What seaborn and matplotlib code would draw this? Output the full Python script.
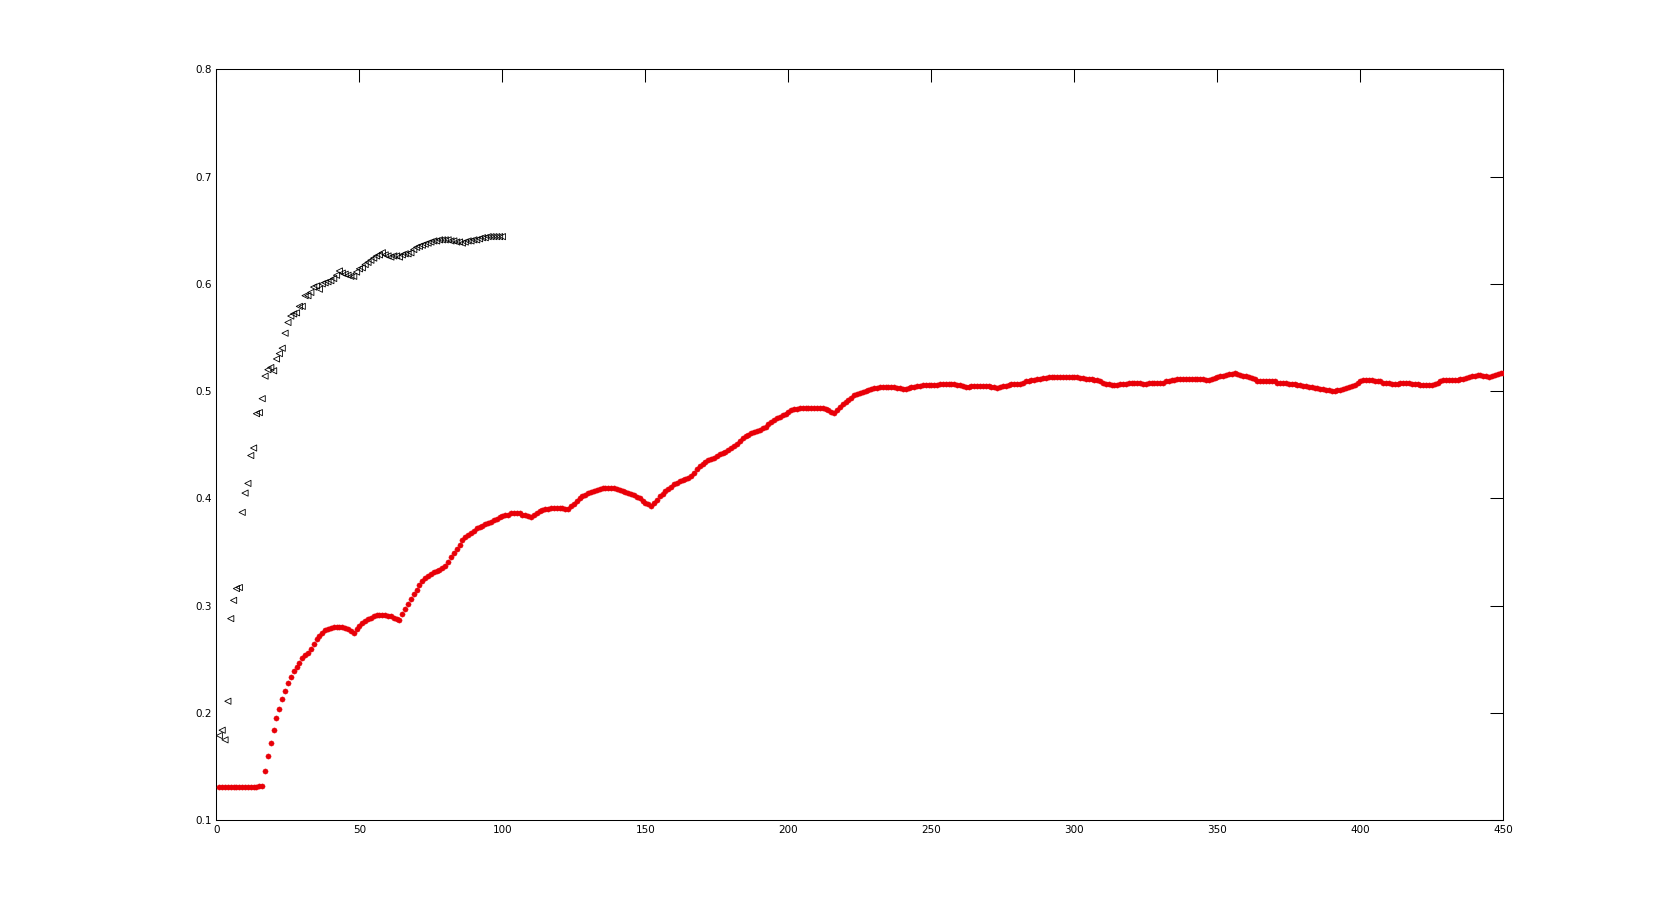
import numpy as np
import matplotlib
matplotlib.use("Agg")
import matplotlib.pyplot as plt
import seaborn as sns

# ==========================================
# Data
# ==========================================

# black open triangles, x = 1..100
tri_values = [
    0.179, 0.184, 0.175, 0.211, 0.288, 0.305, 0.316, 0.317, 0.387, 0.405,
    0.414, 0.440, 0.447, 0.479, 0.480, 0.493, 0.514, 0.520, 0.522, 0.519,
    0.530, 0.535, 0.540, 0.554, 0.564, 0.570, 0.572, 0.573, 0.579, 0.579,
    0.589, 0.589, 0.592, 0.597, 0.598, 0.595, 0.600, 0.601, 0.602, 0.603,
    0.605, 0.608, 0.612, 0.610, 0.609, 0.608, 0.607, 0.607, 0.611, 0.614,
    0.615, 0.618, 0.620, 0.622, 0.624, 0.626, 0.627, 0.629, 0.627, 0.626,
    0.625, 0.626, 0.626, 0.625, 0.627, 0.628, 0.628, 0.629, 0.632, 0.634,
    0.635, 0.636, 0.637, 0.638, 0.639, 0.640, 0.640, 0.641, 0.641, 0.641,
    0.641, 0.640, 0.640, 0.639, 0.639, 0.638, 0.639, 0.640, 0.640, 0.641,
    0.641, 0.642, 0.643, 0.643, 0.644, 0.644, 0.644, 0.644, 0.644, 0.644,
]

# red dots, x = 1..450
red_values = [
    0.131, 0.131, 0.131, 0.131, 0.131, 0.131, 0.131, 0.131, 0.131, 0.131,
    0.131, 0.131, 0.131, 0.131, 0.132, 0.132, 0.146, 0.160, 0.172, 0.184,
    0.195, 0.204, 0.213, 0.221, 0.228, 0.234, 0.239, 0.243, 0.247, 0.251,
    0.254, 0.256, 0.260, 0.264, 0.269, 0.272, 0.275, 0.277, 0.278, 0.279,
    0.280, 0.280, 0.280, 0.280, 0.279, 0.278, 0.276, 0.275, 0.278, 0.281,
    0.284, 0.286, 0.288, 0.289, 0.290, 0.291, 0.291, 0.291, 0.291, 0.290,
    0.290, 0.289, 0.288, 0.287, 0.292, 0.297, 0.302, 0.306, 0.311, 0.315,
    0.319, 0.323, 0.326, 0.328, 0.330, 0.331, 0.332, 0.333, 0.335, 0.337,
    0.341, 0.345, 0.349, 0.353, 0.357, 0.361, 0.364, 0.366, 0.368, 0.370,
    0.372, 0.373, 0.374, 0.376, 0.377, 0.378, 0.380, 0.381, 0.383, 0.384,
    0.385, 0.385, 0.386, 0.386, 0.386, 0.386, 0.385, 0.385, 0.384, 0.383,
    0.385, 0.386, 0.388, 0.389, 0.390, 0.390, 0.391, 0.391, 0.391, 0.391,
    0.391, 0.390, 0.390, 0.393, 0.395, 0.398, 0.400, 0.402, 0.403, 0.405,
    0.406, 0.407, 0.408, 0.409, 0.410, 0.410, 0.410, 0.410, 0.410, 0.409,
    0.408, 0.407, 0.406, 0.405, 0.404, 0.403, 0.401, 0.400, 0.398, 0.396,
    0.395, 0.393, 0.396, 0.399, 0.402, 0.404, 0.407, 0.409, 0.411, 0.413,
    0.414, 0.416, 0.417, 0.418, 0.419, 0.421, 0.424, 0.427, 0.430, 0.432,
    0.434, 0.436, 0.437, 0.438, 0.440, 0.441, 0.442, 0.443, 0.445, 0.447,
    0.449, 0.451, 0.454, 0.456, 0.458, 0.459, 0.461, 0.462, 0.463, 0.464,
    0.466, 0.467, 0.469, 0.471, 0.473, 0.475, 0.476, 0.478, 0.479, 0.481,
    0.482, 0.483, 0.483, 0.484, 0.484, 0.484, 0.484, 0.484, 0.484, 0.484,
    0.484, 0.484, 0.483, 0.482, 0.481, 0.480, 0.482, 0.485, 0.488, 0.490,
    0.492, 0.494, 0.496, 0.497, 0.498, 0.499, 0.500, 0.501, 0.502, 0.503,
    0.503, 0.504, 0.504, 0.504, 0.504, 0.504, 0.504, 0.503, 0.503, 0.502,
    0.502, 0.503, 0.504, 0.504, 0.505, 0.505, 0.506, 0.506, 0.506, 0.506,
    0.506, 0.506, 0.507, 0.507, 0.507, 0.507, 0.507, 0.507, 0.506, 0.506,
    0.505, 0.504, 0.504, 0.505, 0.505, 0.505, 0.505, 0.505, 0.505, 0.505,
    0.504, 0.504, 0.503, 0.504, 0.505, 0.505, 0.506, 0.507, 0.507, 0.507,
    0.507, 0.508, 0.509, 0.509, 0.510, 0.510, 0.511, 0.511, 0.512, 0.512,
    0.513, 0.513, 0.513, 0.513, 0.513, 0.513, 0.513, 0.513, 0.513, 0.513,
    0.513, 0.512, 0.512, 0.511, 0.511, 0.511, 0.510, 0.510, 0.509, 0.508,
    0.507, 0.507, 0.506, 0.506, 0.506, 0.507, 0.507, 0.507, 0.508, 0.508,
    0.508, 0.508, 0.508, 0.507, 0.507, 0.508, 0.508, 0.508, 0.508, 0.508,
    0.508, 0.509, 0.509, 0.510, 0.510, 0.511, 0.511, 0.511, 0.511, 0.511,
    0.511, 0.511, 0.511, 0.511, 0.511, 0.510, 0.510, 0.511, 0.512, 0.513,
    0.514, 0.514, 0.515, 0.516, 0.516, 0.517, 0.516, 0.515, 0.514, 0.514,
    0.513, 0.512, 0.511, 0.509, 0.509, 0.509, 0.509, 0.509, 0.509, 0.509,
    0.508, 0.508, 0.508, 0.508, 0.507, 0.507, 0.507, 0.506, 0.506, 0.505,
    0.505, 0.504, 0.504, 0.503, 0.503, 0.502, 0.502, 0.501, 0.501, 0.500,
    0.500, 0.501, 0.501, 0.502, 0.503, 0.504, 0.505, 0.506, 0.508, 0.509,
    0.510, 0.510, 0.510, 0.510, 0.509, 0.509, 0.509, 0.508, 0.508, 0.508,
    0.507, 0.507, 0.507, 0.508, 0.508, 0.508, 0.508, 0.507, 0.507, 0.507,
    0.506, 0.506, 0.506, 0.506, 0.506, 0.507, 0.508, 0.509, 0.510, 0.510,
    0.510, 0.510, 0.510, 0.510, 0.511, 0.511, 0.512, 0.513, 0.514, 0.514,
    0.515, 0.515, 0.514, 0.514, 0.513, 0.514, 0.515, 0.516, 0.517, 0.517,
]

tri_x = np.arange(1, len(tri_values) + 1)
red_x = np.arange(1, len(red_values) + 1)

x_ticks = [0, 50, 100, 150, 200, 250, 300, 350, 400, 450]
y_ticks = [0.1, 0.2, 0.3, 0.4, 0.5, 0.6, 0.7, 0.8]

# ==========================================
# Plot
# ==========================================

sns.set_style("white")
plt.rcParams["font.family"] = ["DejaVu Sans"]

fig = plt.figure(figsize=(16.61, 9.21), dpi=100)
ax = fig.add_axes([0.1303, 0.1093, 0.7748, 0.8155])

sns.scatterplot(x=red_x, y=red_values, ax=ax, marker="o", s=14,
                color="#e80008", edgecolor="#e80008", linewidth=0.3,
                legend=False, zorder=3)
sns.scatterplot(x=tri_x, y=tri_values, ax=ax, marker="<", s=20,
                facecolor="none", edgecolor="black", linewidth=0.6,
                legend=False, zorder=4)

ax.set_xlim(0, 450)
ax.set_ylim(0.1, 0.8)
ax.set_xticks(x_ticks)
ax.set_yticks(y_ticks)
ax.set_xticklabels([str(t) for t in x_ticks])
ax.set_yticklabels([f"{t:.1f}" for t in y_ticks])
ax.tick_params(direction="in", length=9.5, width=0.75, labelsize=7.5,
               top=True, right=True, pad=3, colors="black")
for sp in ax.spines.values():
    sp.set_visible(True)
    sp.set_color("black")
    sp.set_linewidth(0.75)
ax.set_xlabel("")
ax.set_ylabel("")

fig.savefig("out.png", dpi=100, facecolor="white")
